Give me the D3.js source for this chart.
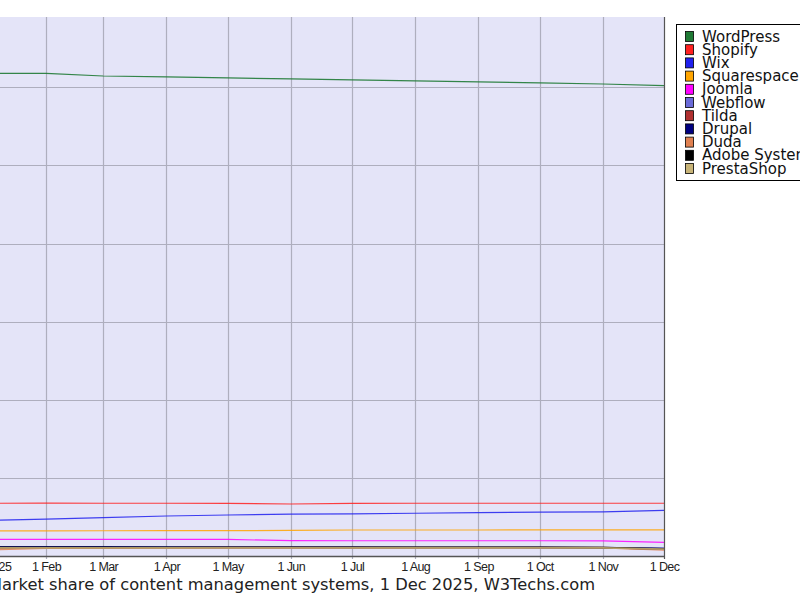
<!DOCTYPE html>
<html>
<head>
<meta charset="utf-8">
<script src="https://cdn.jsdelivr.net/npm/d3@7"></script>
<style>
  html, body { margin: 0; padding: 0; background: #fff; overflow: hidden; }
  svg { display: block; }
</style>
</head>
<body>
<svg id="chart" width="800" height="600"></svg>
<script>
// monthly samples, 1 Jan 2025 .. 1 Dec 2025
const months = ["Jan", "Feb", "Mar", "Apr", "May", "Jun", "Jul", "Aug", "Sep", "Oct", "Nov", "Dec"];

const seriesNames = ["WordPress", "Shopify", "Wix", "Squarespace", "Joomla", "Webflow",
                     "Tilda", "Drupal", "Duda", "Adobe Systems", "PrestaShop"];
const seriesColors = ["#1f7a35", "#ff2020", "#2020ee", "#ffa500", "#ff00ff", "#6a6ad8",
                      "#b03030", "#000080", "#e08050", "#000000", "#c8b478"];

const wordpress = [61.8, 61.78, 61.45, 61.33, 61.2, 61.07, 60.95, 60.82, 60.7, 60.56, 60.42, 60.22];
const shopify = [6.75, 6.76, 6.75, 6.75, 6.74, 6.66, 6.74, 6.75, 6.75, 6.75, 6.75, 6.75];
const wix = [4.55, 4.72, 4.9, 5.12, 5.25, 5.36, 5.4, 5.47, 5.55, 5.62, 5.65, 5.85];
const squarespace = [3.2, 3.22, 3.23, 3.24, 3.25, 3.27, 3.33, 3.33, 3.33, 3.34, 3.34, 3.34];
const joomla = [2.14, 2.14, 2.14, 2.13, 2.12, 1.96, 1.95, 1.95, 1.95, 1.95, 1.93, 1.75];
const webflow = [1.0, 1.02, 1.03, 1.04, 1.05, 1.05, 1.06, 1.06, 1.07, 1.07, 1.07, 1.0];
const tilda = [0.98, 1.0, 1.02, 1.03, 1.04, 1.05, 1.05, 1.05, 1.06, 1.06, 1.04, 0.85];
const drupal = [1.18, 1.16, 1.15, 1.14, 1.14, 1.13, 1.12, 1.11, 1.1, 1.09, 1.07, 0.95];
const duda = [0.77, 1.02, 1.04, 1.05, 1.06, 1.06, 1.07, 1.07, 1.08, 1.08, 1.06, 0.8];
const adobe = [1.1, 1.1, 1.1, 1.1, 1.1, 1.1, 1.1, 1.1, 1.1, 1.1, 1.08, 0.92];
const prestashop = [1.03, 1.04, 1.04, 1.05, 1.05, 1.05, 1.05, 1.05, 1.05, 1.04, 1.03, 0.88];

const seriesValues = [wordpress, shopify, wix, squarespace, joomla, webflow,
                      tilda, drupal, duda, adobe, prestashop];

const yTicks = [10, 20, 30, 40, 50, 60];
const title = "Market share of content management systems, 1 Dec 2025, W3Techs.com";

const dates = months.map((m, i) => new Date(Date.UTC(2025, i, 1)));

const svg = d3.select("#chart");

// plot area (left part lies outside the visible window)
const plotLeft = -120, plotRight = 664, plotTop = 17, plotBottom = 556;

const x = d3.scaleUtc()
    .domain([dates[0], dates[dates.length - 1]])
    .range([-17.2, plotRight]);

const y = d3.scaleLinear()
    .domain([0, 69])
    .range([plotBottom, plotTop]);

svg.append("rect")
    .attr("x", plotLeft)
    .attr("y", plotTop)
    .attr("width", plotRight - plotLeft)
    .attr("height", plotBottom - plotTop)
    .attr("fill", "#e4e4f8");

// grid
svg.append("g")
    .selectAll("line")
    .data(yTicks)
    .enter().append("line")
    .attr("x1", plotLeft)
    .attr("x2", plotRight)
    .attr("y1", d => Math.round(y(d)) + 0.5)
    .attr("y2", d => Math.round(y(d)) + 0.5)
    .attr("stroke", "#aeaebe")
    .attr("stroke-width", 1.2);

svg.append("g")
    .selectAll("line")
    .data(dates.slice(0, -1))
    .enter().append("line")
    .attr("x1", d => Math.round(x(d)) + 0.5)
    .attr("x2", d => Math.round(x(d)) + 0.5)
    .attr("y1", plotTop)
    .attr("y2", plotBottom + 3)
    .attr("stroke", "#aeaebe")
    .attr("stroke-width", 1.2);

// series
const line = d3.line()
    .x((d, i) => x(dates[i]))
    .y(d => y(d));

svg.append("g")
    .selectAll("path")
    .data(seriesValues)
    .enter().append("path")
    .attr("d", d => line(d))
    .attr("fill", "none")
    .attr("stroke", (d, i) => seriesColors[i])
    .attr("stroke-width", (d, i) => i >= 7 ? 1.8 : 1.2)
    .attr("stroke-opacity", (d, i) => i === 0 ? 0.9 : 0.85);

// frame
svg.append("line")
    .attr("x1", plotRight + 0.5).attr("x2", plotRight + 0.5)
    .attr("y1", plotTop).attr("y2", plotBottom + 3)
    .attr("stroke", "#555").attr("stroke-width", 1.2);

// x axis
const xAxis = d3.axisBottom(x)
    .tickValues(dates)
    .tickSize(0)
    .tickPadding(6)
    .tickFormat((d, i) => i === 0 ? "1 Jan 2025" : "1 " + months[i]);

const gx = svg.append("g")
    .attr("transform", `translate(0,${plotBottom})`)
    .call(xAxis);

gx.select(".domain")
    .attr("d", `M${plotLeft},0.5H${plotRight + 1}`)
    .attr("stroke", "#555")
    .attr("stroke-width", 1.4);

gx.selectAll("text")
    .attr("font-family", "Liberation Sans, Arial, sans-serif")
    .attr("font-size", 12.5)
    .attr("letter-spacing", -0.6)
    .attr("fill", "#222");

svg.append("text")
    .attr("x", 595)
    .attr("y", 590)
    .attr("text-anchor", "end")
    .attr("font-family", "DejaVu Sans, sans-serif")
    .attr("font-size", 16.3)
    .attr("fill", "#222")
    .text(title);

// legend
const legend = svg.append("g")
    .attr("transform", "translate(676,24)");

legend.append("rect")
    .attr("x", 0.5)
    .attr("y", 0.5)
    .attr("width", 170)
    .attr("height", 156)
    .attr("fill", "#fff")
    .attr("stroke", "#000")
    .attr("stroke-width", 1);

const items = legend.selectAll("g.item")
    .data(seriesNames)
    .enter().append("g")
    .attr("class", "item")
    .attr("transform", (d, i) => `translate(0,${7 + i * 13.2})`);

items.append("rect")
    .attr("x", 9.5)
    .attr("y", 0.5)
    .attr("width", 8)
    .attr("height", 10)
    .attr("fill", (d, i) => seriesColors[i])
    .attr("stroke", "#000")
    .attr("stroke-width", 0.8);

items.append("text")
    .attr("x", 26)
    .attr("y", 10.5)
    .attr("font-family", "DejaVu Sans, sans-serif")
    .attr("font-size", 15)
    .attr("fill", "#111")
    .text(d => d);
</script>
</body>
</html>
